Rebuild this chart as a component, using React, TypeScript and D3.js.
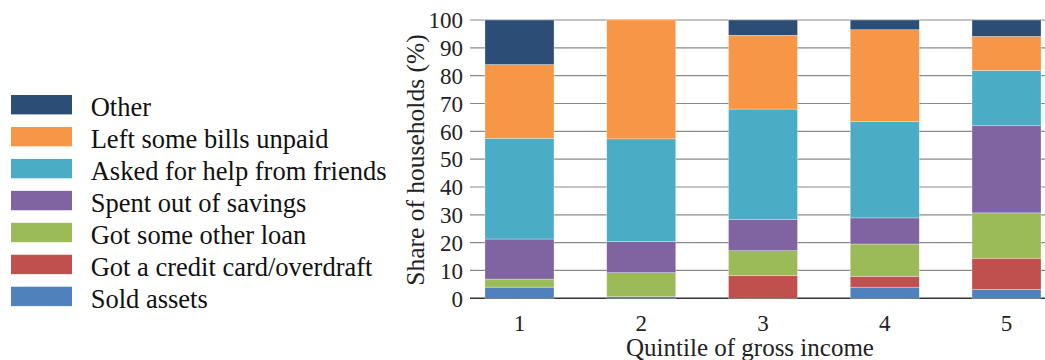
import React from "react";
import * as d3 from "d3";

const categories = ["1", "2", "3", "4", "5"];
const seriesNames = [
  "Sold assets",
  "Got a credit card/overdraft",
  "Got some other loan",
  "Spent out of savings",
  "Asked for help from friends",
  "Left some bills unpaid",
  "Other",
];
const soldAssets = [4.0, 0.6, 0, 4.0, 3.2];
const creditCard = [0, 0, 8.1, 3.9, 11.2];
const otherLoan = [2.9, 8.6, 9.0, 11.6, 16.3];
const savings = [14.4, 11.2, 11.3, 9.4, 31.3];
const friends = [36.2, 36.9, 39.6, 34.6, 19.9];
const billsUnpaid = [26.5, 42.7, 26.5, 33.0, 12.2];
const other = [16.0, 0, 5.5, 3.5, 5.9];
const yTicks = [0, 10, 20, 30, 40, 50, 60, 70, 80, 90, 100];
const colors = ["#4F81BD", "#C0504D", "#9BBB59", "#8064A2", "#4BACC6", "#F79646", "#2C4D75"];

const seriesValues = [soldAssets, creditCard, otherLoan, savings, friends, billsUnpaid, other];

const font = "Liberation Serif";

export default function App() {
  const W = 1045;
  const H = 360;
  const x = d3.scaleBand().domain(categories).range([458.6, 1067.4]).paddingInner(0.433).paddingOuter(0.2165);
  const y = d3.scaleLinear().domain([0, 100]).range([298.3, 20]);

  const rows = categories.map((c, i) => {
    const r: any = { cat: c };
    seriesNames.forEach((s, j) => (r[s] = seriesValues[j][i]));
    return r;
  });
  const stacked = d3.stack().keys(seriesNames)(rows);

  const legendOrder = [...seriesNames].reverse();
  const ts = { fontFamily: font };

  return (
    <svg width={W} height={H} style={{ position: "absolute", left: 0, top: 0, background: "#fff" }}>
      {yTicks.map((t) => (
        <line key={t} x1={470} x2={W} y1={y(t)} y2={y(t)} stroke={t === 0 ? "#333" : "#8a8a8a"} strokeWidth={t === 0 ? 1.5 : 1.2} />
      ))}
      {stacked.map((layer, j) => (
        <g key={layer.key} fill={colors[j]}>
          {layer.map((d, i) =>
            d[1] - d[0] > 0 ? (
              <rect
                key={i}
                x={x(categories[i])}
                width={x.bandwidth()}
                y={y(d[1])}
                height={y(d[0]) - y(d[1])}
                stroke="#fff"
                strokeOpacity={0.5}
                strokeWidth={0.6}
              />
            ) : null
          )}
        </g>
      ))}
      {yTicks.map((t) => (
        <text key={t} x={463} y={y(t)} dy="0.36em" textAnchor="end" fontSize={23} fill="#222" style={ts}>
          {t}
        </text>
      ))}
      {categories.map((c) => (
        <text key={c} x={(x(c) as number) + x.bandwidth() / 2} y={330.5} textAnchor="middle" fontSize={23} fill="#222" style={ts}>
          {c}
        </text>
      ))}
      <text x={750} y={356} textAnchor="middle" fontSize={25} fill="#222" style={ts}>
        Quintile of gross income
      </text>
      <text transform={`translate(424,160) rotate(-90)`} textAnchor="middle" fontSize={25.5} fill="#222" style={ts}>
        Share of households (%)
      </text>
      {legendOrder.map((s, k) => {
        const j = seriesNames.indexOf(s);
        const cy = 104.7 + k * 31.95;
        return (
          <g key={s}>
            <rect x={11} y={cy - 9.7} width={61} height={19.4} fill={colors[j]} />
            <text x={90.7} y={cy + 11.6} fontSize={26.5} fill="#111" style={ts}>
              {s}
            </text>
          </g>
        );
      })}
    </svg>
  );
}
